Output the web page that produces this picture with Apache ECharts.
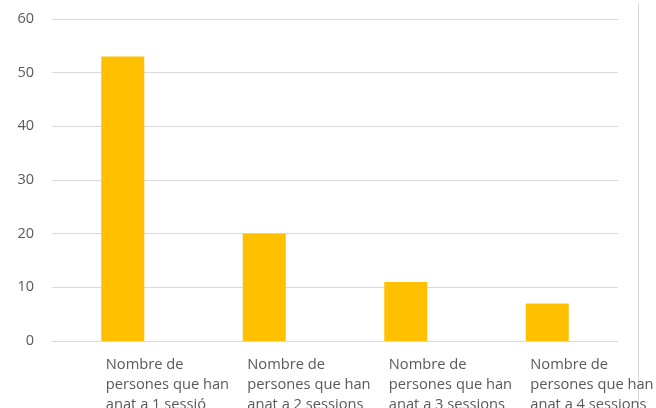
<!DOCTYPE html>
<html><head><meta charset="utf-8">
<script src="https://cdn.jsdelivr.net/npm/echarts@6/dist/echarts.min.js"></script>
<style>html,body{margin:0;padding:0;background:#fff}#c{width:656px;height:408px}</style>
</head><body><div id="c"></div>
<script>
const categories = [
  "Nombre de\npersones que han\nanat a 1 sessió",
  "Nombre de\npersones que han\nanat a 2 sessions",
  "Nombre de\npersones que han\nanat a 3 sessions",
  "Nombre de\npersones que han\nanat a 4 sessions"
];
const values = [53, 20, 11, 7];
const yTicks = [0, 10, 20, 30, 40, 50, 60];

const chart = echarts.init(document.getElementById('c'));
chart.setOption({
  animation: false,
  grid: { left: 52, right: 38, top: 19, bottom: 67, containLabel: false, outerBoundsMode: 'none' },
  xAxis: {
    type: 'category',
    data: categories,
    axisLine: { lineStyle: { color: '#d9d9d9', width: 1 } },
    axisTick: { show: false },
    axisLabel: {
      interval: 0, color: '#595959', fontFamily: 'Open Sans', fontSize: 14.7,
      lineHeight: 20, align: 'left', margin: 14, padding: [0, 0, 0, -17]
    }
  },
  yAxis: {
    type: 'value', min: yTicks[0], max: yTicks[yTicks.length - 1], interval: 10,
    axisLine: { show: false }, axisTick: { show: false },
    splitLine: { lineStyle: { color: '#d9d9d9', width: 1 } },
    axisLabel: { color: '#595959', fontFamily: 'Open Sans', fontSize: 14.5, margin: 18 }
  },
  series: [{
    type: 'bar', data: values, barWidth: 43,
    itemStyle: { color: '#FFC000' }
  }],
  graphic: [{
    type: 'line', shape: { x1: 638.5, y1: 3, x2: 638.5, y2: 408 },
    style: { stroke: '#d9d9d9', lineWidth: 1 }
  }]
});
</script></body></html>
